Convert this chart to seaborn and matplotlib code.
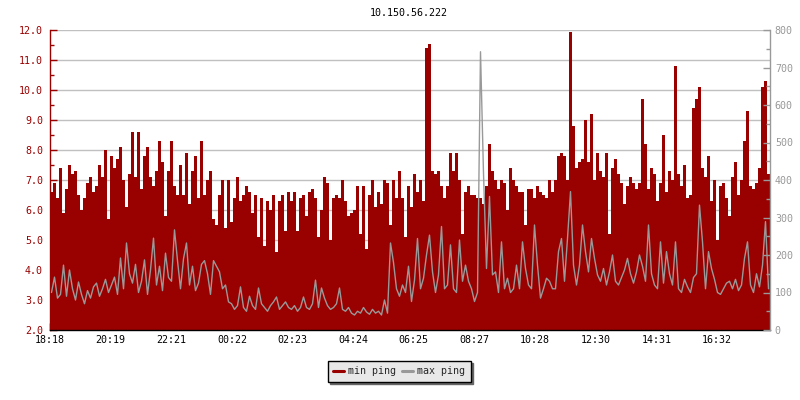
import numpy as np
import pandas as pd
import matplotlib
matplotlib.use("Agg")
import matplotlib.pyplot as plt
import seaborn as sns
from matplotlib.lines import Line2D
from matplotlib.ticker import MultipleLocator, FormatStrFormatter

# ── Data: one sample every 6 minutes, one row per 2h block ──
title = "10.150.56.222"
start_time = "18:18"
step_min = 6

tick_labels = ["18:18", "20:19", "22:21", "00:22", "02:23", "04:24",
               "06:25", "08:27", "10:28", "12:30", "14:31", "16:32"]

# min ping (left axis)
min_ping = [
    6.6, 6.9, 6.4, 7.4, 5.9, 6.7, 7.5, 7.2, 7.3, 6.5, 6.0, 6.4, 6.9, 7.1, 6.6, 6.8, 7.5, 7.1, 8.0, 5.7,
    7.8, 7.4, 7.7, 8.1, 7.0, 6.1, 7.2, 8.6, 7.1, 8.6, 6.7, 7.8, 8.1, 7.1, 6.8, 7.3, 8.3, 7.6, 5.8, 7.3,
    8.3, 6.8, 6.5, 7.5, 6.5, 7.9, 6.2, 7.3, 7.8, 6.4, 8.3, 6.5, 7.0, 7.3, 5.7, 5.5, 6.5, 7.0, 5.4, 7.0,
    5.6, 6.4, 7.1, 6.3, 6.5, 6.8, 6.6, 5.9, 6.5, 5.1, 6.4, 4.8, 6.3, 6.0, 6.5, 4.6, 6.3, 6.5, 5.3, 6.6,
    6.3, 6.6, 5.3, 6.4, 6.5, 5.8, 6.6, 6.7, 6.4, 5.1, 6.0, 7.1, 6.9, 5.0, 6.4, 6.5, 6.4, 7.0, 6.3, 5.8,
    5.9, 6.0, 6.8, 5.2, 6.8, 4.7, 6.5, 7.0, 6.1, 6.6, 6.2, 7.0, 6.9, 5.5, 7.0, 6.4, 7.3, 6.4, 5.1, 6.8,
    6.1, 7.2, 6.6, 7.0, 6.3, 11.4, 11.55, 7.3, 7.2, 7.3, 6.8, 6.4, 6.8, 7.9, 7.3, 7.9, 7.0, 5.2, 6.6, 6.8,
    6.5, 6.5, 6.4, 6.4, 6.2, 6.8, 8.2, 7.3, 7.0, 6.7, 7.0, 6.9, 6.0, 7.4, 7.0, 6.8, 6.6, 6.6, 5.5, 6.7,
    6.7, 6.4, 6.8, 6.6, 6.5, 6.4, 7.0, 6.6, 7.0, 7.8, 7.9, 7.8, 7.0, 11.94, 8.8, 7.4, 7.6, 7.7, 9.0, 7.6,
    9.2, 7.0, 7.9, 7.3, 7.1, 7.9, 5.2, 7.4, 7.7, 7.2, 6.9, 6.2, 6.8, 7.1, 6.9, 6.7, 6.9, 9.7, 8.2, 6.7,
    7.4, 7.2, 6.3, 6.9, 8.5, 6.6, 7.3, 7.0, 10.8, 7.2, 6.8, 7.5, 6.4, 6.5, 9.4, 9.7, 10.1, 7.4, 7.1, 7.8,
    6.3, 7.0, 5.0, 6.8, 6.9, 6.4, 5.8, 7.1, 7.6, 6.5, 7.0, 8.3, 9.3, 6.8, 6.7, 6.9, 7.4, 10.1, 10.3, 7.2,
]

# max ping (right axis)
max_ping = [
    100, 141, 85, 95, 173, 90, 160, 110, 80, 128, 95, 70, 105, 85, 115, 125, 90, 110, 135, 100,
    120, 141, 95, 192, 110, 232, 150, 125, 175, 100, 130, 187, 95, 160, 245, 120, 170, 105, 205, 140,
    130, 267, 185, 110, 190, 232, 120, 170, 105, 125, 175, 185, 150, 95, 185, 170, 155, 110, 120, 75,
    70, 55, 65, 115, 60, 50, 90, 65, 55, 112, 70, 60, 50, 65, 75, 88, 55, 65, 75, 60,
    55, 65, 50, 60, 88, 60, 55, 70, 133, 60, 112, 85, 65, 55, 60, 70, 112, 55, 50, 60,
    45, 40, 50, 45, 60, 48, 42, 55, 45, 50, 40, 80, 45, 232, 180, 110, 90, 120, 100, 170,
    76, 133, 244, 110, 138, 200, 253, 155, 100, 147, 276, 110, 120, 227, 110, 100, 240, 130, 173, 130,
    110, 76, 100, 742, 418, 164, 356, 147, 155, 100, 235, 110, 138, 100, 110, 173, 110, 235, 164, 120,
    110, 280, 173, 85, 110, 138, 130, 110, 110, 209, 244, 130, 244, 369, 173, 120, 173, 280, 209, 155,
    244, 191, 147, 130, 164, 120, 155, 200, 130, 120, 140, 160, 191, 150, 125, 155, 200, 170, 130, 280,
    150, 120, 110, 235, 125, 209, 150, 120, 235, 110, 100, 135, 115, 100, 140, 150, 333, 235, 110, 209,
    164, 135, 100, 95, 110, 125, 130, 110, 135, 105, 120, 191, 235, 120, 100, 150, 115, 173, 289, 110,
]

RED = "#990000"
GRAY = "#999999"


def to_minutes(s):
    h, m = s.split(":")
    return int(h) * 60 + int(m)


t0 = to_minutes(start_time)
tick_pos = [(to_minutes(s) - t0) % 1440 for s in tick_labels]

df = pd.DataFrame({"minute": np.arange(len(min_ping)) * step_min,
                   "min_ping": min_ping, "max_ping": max_ping})
df["mid"] = df["minute"] + step_min / 2
# closing row so the last step of the area gets its full width
area = pd.concat([df, df.tail(1).assign(minute=len(df) * step_min)], ignore_index=True)

# ── Style ──────────────────────────────────────────────────────────────────────
sns.set_style("ticks")
plt.rcParams["font.family"] = ["DejaVu Sans Mono"]
plt.rcParams["font.size"] = 7.2

fig = plt.figure(figsize=(8, 4), dpi=100)
ax = fig.add_axes([0.0625, 0.175, 0.9, 0.75])
ax2 = ax.twinx()

# ── Plot ───────────────────────────────────────────────────────────────────────
ax.fill_between(area["minute"], 2, area["min_ping"], step="post",
                color=RED, linewidth=0, zorder=2)
sns.lineplot(data=df, x="mid", y="max_ping", ax=ax2, color=GRAY,
             linewidth=1, legend=False, errorbar=None)

ax.set_xlim(0, 1440)
ax.set_ylim(2, 12)
ax2.set_ylim(0, 800)
ax.set_xlabel("")
ax.set_ylabel("")
ax2.set_xlabel("")
ax2.set_ylabel("")

# left axis
ax.yaxis.set_major_locator(MultipleLocator(1))
ax.yaxis.set_minor_locator(MultipleLocator(0.5))
ax.yaxis.set_major_formatter(FormatStrFormatter("%.1f"))
ax.tick_params(axis="y", which="both", direction="in", left=True,
               color=RED, labelcolor=RED, labelsize=7.2, pad=5)
ax.tick_params(axis="y", which="major", length=5, width=1)
ax.tick_params(axis="y", which="minor", length=3, width=1)
ax.grid(axis="y", color="#c0c0c0", linewidth=1)
ax.set_axisbelow(True)

# x axis
ax.set_xticks(tick_pos, tick_labels)
ax.tick_params(axis="x", direction="in", bottom=True, length=5, width=1,
               color="black", labelcolor="black", labelsize=7.2, pad=3.5)

# right axis
ax2.yaxis.set_major_locator(MultipleLocator(100))
ax2.yaxis.set_minor_locator(MultipleLocator(50))
ax2.tick_params(axis="y", which="both", direction="in", right=True,
                color=GRAY, labelcolor=GRAY, labelsize=7.2, pad=3.5)
ax2.tick_params(axis="y", which="major", length=5, width=1)
ax2.tick_params(axis="y", which="minor", length=3, width=1)

for s in ["top", "right"]:
    ax.spines[s].set_visible(False)
ax.spines["left"].set_color(RED)
ax.spines["bottom"].set_color("black")
for s in ["top", "left", "bottom"]:
    ax2.spines[s].set_visible(False)
ax2.spines["right"].set_color(GRAY)
for sp in list(ax.spines.values()) + list(ax2.spines.values()):
    sp.set_linewidth(1)

fig.text(0.511, 1 - 13 / 400, title, ha="center", va="center",
         fontsize=7.2, color="black")

handles = [Line2D([], [], color=RED, linewidth=2.2),
           Line2D([], [], color=GRAY, linewidth=2.2)]
leg = fig.legend(handles, ["min ping", "max ping"], loc="center",
                 bbox_to_anchor=(399 / 800, 1 - 371 / 400), ncol=2,
                 frameon=True, fancybox=False,
                 shadow={"color": "#666666", "alpha": 1},
                 edgecolor="black", facecolor="#e8e8e8", framealpha=1,
                 handlelength=1.1, handletextpad=0.4, columnspacing=0.6,
                 borderpad=0.55, borderaxespad=0, fontsize=7.2)
leg.get_frame().set_linewidth(1)

fig.savefig("out.png", dpi=100)
